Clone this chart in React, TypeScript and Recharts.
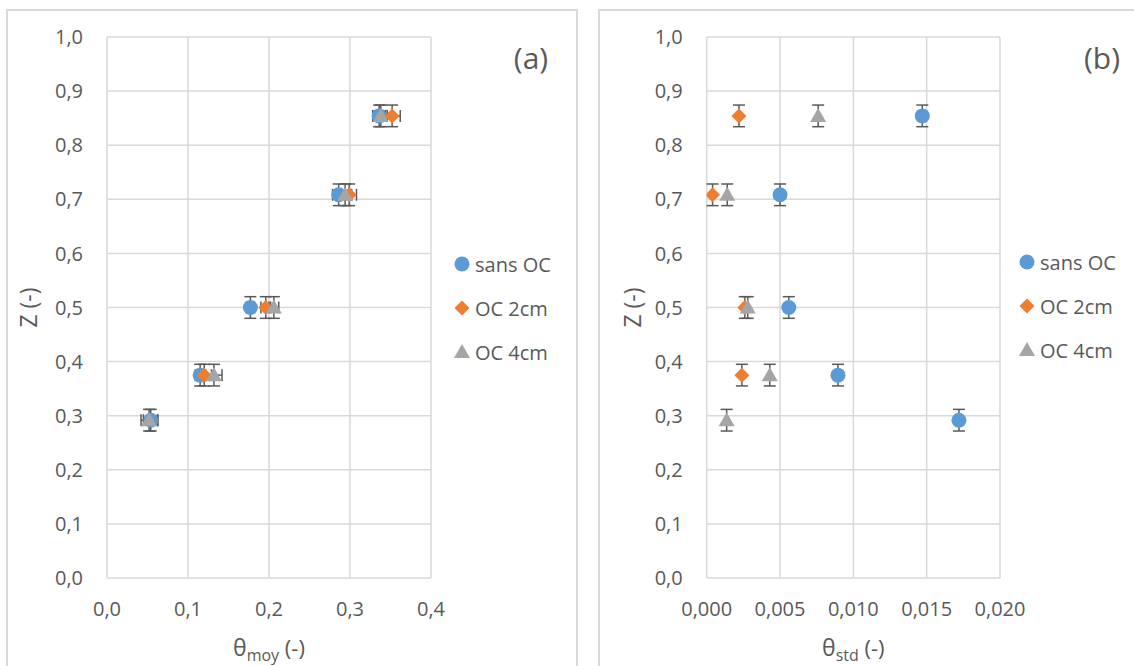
import React from 'react';
import { ScatterChart, Scatter, XAxis, YAxis, CartesianGrid, ErrorBar, Legend, Label } from 'recharts';

// ---------- data ----------
const seriesNames = ['sans OC', 'OC 2cm', 'OC 4cm'];
const seriesColors = ['#5B9BD5', '#ED7D31', '#A5A5A5'];
const zLevels = [0.2917, 0.375, 0.5, 0.7083, 0.8542];
const zError = 0.02;

// panel (a): theta_moy
const moySansOC = [0.054, 0.115, 0.177, 0.286, 0.336];
const moySansOCErr = [0.009, 0.006, 0.005, 0.0075, 0.008];
const moyOC2 = [null, 0.12, 0.196, 0.299, 0.352];
const moyOC2Err = [0, 0.009, 0.006, 0.009, 0.01];
const moyOC4 = [0.052, 0.132, 0.206, 0.294, 0.338];
const moyOC4Err = [0.01, 0.01, 0.006, 0.008, 0.008];

// panel (b): theta_std
const stdSansOC = [0.0172, 0.00895, 0.0056, 0.005, 0.0147];
const stdOC2 = [null, 0.0024, 0.0026, 0.0004, 0.0022];
const stdOC4 = [0.00136, 0.0043, 0.0028, 0.0014, 0.0076];

// ticks
const yTicks = [0, 0.1, 0.2, 0.3, 0.4, 0.5, 0.6, 0.7, 0.8, 0.9, 1.0];
const xTicksA = [0, 0.1, 0.2, 0.3, 0.4];
const xTicksB = [0, 0.005, 0.01, 0.015, 0.02];

// ---------- helpers ----------
const FONT = '"Open Sans", sans-serif';
const TXT = '#595959';
const GRID = '#d9d9d9';
const ERR = '#595959';

type Pt = { x: number; z: number; ex: number; ez: number };

function build(xs: (number | null)[], exs?: number[]): Pt[] {
  const out: Pt[] = [];
  xs.forEach((x, i) => {
    if (x === null) return;
    out.push({ x, z: zLevels[i], ex: exs ? exs[i] : 0, ez: zError });
  });
  return out;
}

const dataA = [build(moySansOC, moySansOCErr), build(moyOC2, moyOC2Err), build(moyOC4, moyOC4Err)];
const dataB = [build(stdSansOC), build(stdOC2), build(stdOC4)];

const fmt = (d: number) => (v: number) => v.toFixed(d).replace('.', ',');

function Marker({ kind, cx, cy, color }: { kind: number; cx: number; cy: number; color: string }) {
  if (kind === 0) return <circle cx={cx} cy={cy} r={7.5} fill={color} />;
  if (kind === 1)
    return <path d={`M${cx},${cy - 7.5}L${cx + 7.5},${cy}L${cx},${cy + 7.5}L${cx - 7.5},${cy}Z`} fill={color} />;
  return <path d={`M${cx},${cy - 8}L${cx + 8},${cy + 6}L${cx - 8},${cy + 6}Z`} fill={color} />;
}

const makeShape = (kind: number) => (props: any) =>
  <Marker kind={kind} cx={props.cx} cy={props.cy} color={seriesColors[kind]} />;

const LegendBox = () => (
  <svg width={130} height={130} style={{ display: 'block', fontFamily: FONT }}>
    {seriesNames.map((n, i) => (
      <g key={n}>
        <Marker kind={i} cx={8} cy={14 + i * 44} color={seriesColors[i]} />
        <text x={21} y={14 + i * 44} dominantBaseline="central" fontSize={20} fill={TXT}>
          {n}
        </text>
      </g>
    ))}
  </svg>
);

const xTitle = (sub: string) => (props: any) => {
  const vb = props.viewBox || {};
  const cx = vb.x + vb.width / 2;
  return (
    <text x={cx} y={656} textAnchor="middle" fontSize={23} fill={TXT} fontFamily={FONT}>
      θ
      <tspan fontSize={16} dy={5}>{sub}</tspan>
      <tspan fontSize={22} dy={-5}> (-)</tspan>
    </text>
  );
};

const yTitle = (x: number) => () => (
  <text
    x={x}
    y={307.5}
    textAnchor="middle"
    dominantBaseline="central"
    fontSize={23}
    fill={TXT}
    fontFamily={FONT}
    transform={`rotate(-90, ${x}, 307.5)`}
  >
    Z (-)
  </text>
);

type PanelProps = {
  left: number;
  width: number;
  marginLeft: number;
  marginRight: number;
  data: Pt[][];
  xTicks: number[];
  xDomain: [number, number];
  xDec: number;
  sub: string;
  withXErr: boolean;
  legendLeft: number;
  legendTop: number;
  yTitleX: number;
};

function Panel(p: PanelProps) {
  return (
    <div style={{ position: 'absolute', left: p.left, top: 0 }}>
      <ScatterChart
        width={p.width}
        height={666}
        margin={{ top: 37, right: p.marginRight, bottom: 48, left: p.marginLeft }}
        style={{ fontFamily: FONT }}
      >
        <CartesianGrid stroke={GRID} strokeWidth={1.5} />
        <XAxis
          type="number"
          dataKey="x"
          domain={p.xDomain}
          ticks={p.xTicks}
          interval={0}
          tickFormatter={fmt(p.xDec)}
          axisLine={false}
          tickLine={false}
          tickSize={0}
          tickMargin={24}
          height={40}
          tick={{ fill: TXT, fontSize: 20, fontFamily: FONT }}
          allowDataOverflow
        >
          <Label content={xTitle(p.sub)} />
        </XAxis>
        <YAxis
          type="number"
          dataKey="z"
          domain={[0, 1]}
          ticks={yTicks}
          interval={0}
          tickFormatter={fmt(1)}
          axisLine={false}
          tickLine={false}
          tickSize={0}
          tickMargin={24}
          width={60}
          tick={{ fill: TXT, fontSize: 20, fontFamily: FONT }}
          allowDataOverflow
        >
          <Label content={yTitle(p.yTitleX)} />
        </YAxis>
        <Legend
          layout="vertical"
          align="center"
          verticalAlign="middle"
          content={() => <LegendBox />}
          wrapperStyle={{ left: p.legendLeft, top: p.legendTop, width: 130, height: 130 }}
        />
        {p.data.map((d, i) => (
          <Scatter
            key={seriesNames[i]}
            name={seriesNames[i]}
            data={d}
            fill={seriesColors[i]}
            shape={makeShape(i)}
            isAnimationActive={false}
          >
            <ErrorBar dataKey="ez" direction="y" width={6} stroke={ERR} strokeWidth={1.5} />
            {p.withXErr && <ErrorBar dataKey="ex" direction="x" width={6} stroke={ERR} strokeWidth={1.5} />}
          </Scatter>
        ))}
      </ScatterChart>
    </div>
  );
}

export default function App() {
  return (
    <div
      style={{
        position: 'absolute',
        left: 0,
        top: 0,
        width: 1134,
        height: 666,
        overflow: 'hidden',
        background: '#fff',
        fontFamily: FONT,
      }}
    >
      <div style={{ position: 'absolute', left: 6, top: 9, width: 572, height: 700, border: `2px solid ${GRID}`, boxSizing: 'border-box' }} />
      <div style={{ position: 'absolute', left: 598, top: 9, width: 600, height: 700, border: `2px solid ${GRID}`, boxSizing: 'border-box' }} />
      <Panel
        left={0}
        width={600}
        marginLeft={47}
        marginRight={169}
        data={dataA}
        xTicks={xTicksA}
        xDomain={[0, 0.4]}
        xDec={1}
        sub="moy"
        withXErr={true}
        legendLeft={454}
        legendTop={250}
        yTitleX={28}
      />
      <Panel
        left={600}
        width={534}
        marginLeft={46.7}
        marginRight={134}
        data={dataB}
        xTicks={xTicksB}
        xDomain={[0, 0.02]}
        xDec={3}
        sub="std"
        withXErr={false}
        legendLeft={419}
        legendTop={248}
        yTitleX={32}
      />
      <svg width={1134} height={666} style={{ position: 'absolute', left: 0, top: 0, pointerEvents: 'none' }}>
        <text x={531} y={57} textAnchor="middle" dominantBaseline="central" fontSize={30} fill={TXT} fontFamily={FONT}>
          (a)
        </text>
        <text x={1102} y={57} textAnchor="middle" dominantBaseline="central" fontSize={30} fill={TXT} fontFamily={FONT}>
          (b)
        </text>
      </svg>
    </div>
  );
}
